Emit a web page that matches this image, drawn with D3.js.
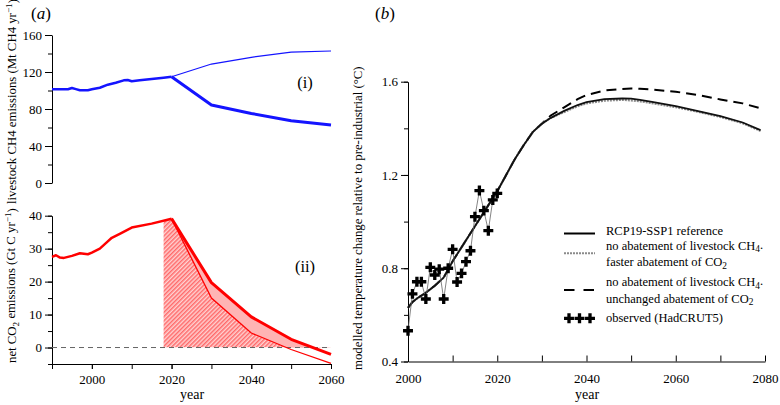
<!DOCTYPE html>
<html><head><meta charset="utf-8">
<script src="https://cdn.jsdelivr.net/npm/d3@7"></script>
<style>
body{margin:0;background:#fff;}
svg{display:block;font-family:"Liberation Serif","Times New Roman",serif;}
</style></head><body>
<svg id="chart" width="780" height="405"></svg>
<script>
// ---------- data: panel (a)(i) livestock CH4 (Mt CH4/yr)
const ch4Years = [1990,1992,1994,1995,1996,1997,1999,2000,2002,2004,2006,2008,2009,2010,2012,2015,2018,2020];
const ch4Hist  = [101.3,101.3,101.3,102.7,101.5,100.2,100.2,101.3,103,106.3,108.4,111,111.3,110,111,112.4,113.9,114.9];
const ch4ProjYears = [2020,2030,2040,2050,2060];
const ch4NoAbate   = [114.9,128.6,135.9,141.4,142.7];
const ch4Abate     = [114.9,84.3,75.2,67.4,62.7];
// ---------- panel (a)(ii) net CO2 (Gt C/yr)
const co2Years = [1990,1991,1992,1993,1995,1997,1999,2000,2002,2004,2005,2007,2010,2015,2020];
const co2Hist  = [27.5,28.0,27.3,27.2,27.8,28.6,28.3,28.8,30.0,32.2,33.3,34.5,36.4,37.6,39.1];
const co2ProjYears = [2020,2030,2040,2050,2060];
const co2Unchanged = [39.1,19.7,9.3,2.5,-2.1];
const co2Faster    = [39.1,15.0,4.4,-0.6,-4.8];
const hatchStartYear = 2018;
// ---------- panel (b) temperature (°C)
const tempYears = [2000,2001,2002,2004,2006,2008,2010,2012,2014,2016,2018,2020,2022,2024,2026,2028,2030,2032,2035,2038,2040,2044,2048,2050,2052,2055,2060,2065,2070,2075,2079];
const tempRef   = [0.63,0.655,0.67,0.695,0.725,0.76,0.83,0.89,0.95,1.01,1.07,1.13,1.20,1.27,1.33,1.385,1.42,1.445,1.475,1.50,1.512,1.525,1.528,1.527,1.522,1.512,1.495,1.474,1.452,1.425,1.392];
const tempFaster= [0.63,0.655,0.67,0.695,0.725,0.76,0.83,0.89,0.95,1.01,1.07,1.13,1.20,1.27,1.33,1.385,1.42,1.445,1.47,1.495,1.507,1.519,1.522,1.52,1.516,1.507,1.491,1.471,1.449,1.422,1.389];
const tempUnch  = [0.63,0.655,0.67,0.695,0.725,0.76,0.83,0.89,0.95,1.01,1.07,1.13,1.20,1.27,1.33,1.385,1.42,1.455,1.49,1.525,1.543,1.562,1.569,1.571,1.57,1.566,1.557,1.543,1.524,1.507,1.486];
const obsYears = [2000,2001,2002,2003,2004,2005,2006,2007,2008,2009,2010,2011,2012,2013,2014,2015,2016,2017,2018,2019,2020];
const obsTemp  = [0.532,0.690,0.742,0.742,0.668,0.804,0.771,0.796,0.668,0.800,0.881,0.741,0.778,0.828,0.875,1.021,1.133,1.047,0.961,1.093,1.121];
// ticks
const aYearTicks = [1990,2000,2010,2020,2030,2040,2050,2060];
const aYearLabels = [2000,2020,2040,2060];
const ch4Ticks = [0,20,40,60,80,100,120,140,160];
const ch4Labels = [0,40,80,120,160];
const co2Ticks = [-5,0,5,10,15,20,25,30,35,40];
const co2Labels = [0,10,20,30,40];
const bYearTicks = [2000,2010,2020,2030,2040,2050,2060,2070,2080];
const bYearLabels = [2000,2020,2040,2060,2080];
const tTicks = [0.4,0.6,0.8,1.0,1.2,1.4,1.6];
const tLabels = [0.4,0.8,1.2,1.6];

const svg = d3.select('#chart');
const FONT = 13;

// scales
const xa = d3.scaleLinear().domain([1990,2060]).range([52,331]);
const yTop = d3.scaleLinear().domain([0,160]).range([183,35]);
const yBot = d3.scaleLinear().domain([-5,40]).range([364,215.7]);
const xb = d3.scaleLinear().domain([2000,2080]).range([408,765]);
const yb = d3.scaleLinear().domain([0.4,1.6]).range([361.5,81.7]);

function styleAxis(g){ g.attr('font-family',null).attr('font-size',FONT); g.selectAll('text').attr('fill','#000'); g.selectAll('line,path').attr('stroke','#000'); }
function yAxis(scale, x, all, lab, fmt){
  svg.append('g').attr('transform',`translate(${x},0)`)
    .call(d3.axisLeft(scale).tickValues(all).tickSize(4).tickFormat(''))
    .call(g=>g.select('.domain').remove()).call(styleAxis);
  svg.append('g').attr('transform',`translate(${x},0)`)
    .call(d3.axisLeft(scale).tickValues(lab).tickSize(7).tickSizeOuter(0).tickPadding(3).tickFormat(fmt))
    .call(styleAxis);
}
yAxis(yTop, 52, ch4Ticks, ch4Labels, d3.format('d'));
yAxis(yBot, 52, co2Ticks, co2Labels, d3.format('d'));
yAxis(yb, 408, tTicks, tLabels, d3.format('.1f'));

// panel a x axis
svg.append('g').attr('transform','translate(0,364)')
  .call(d3.axisBottom(xa).tickValues(aYearTicks).tickSize(5).tickFormat(''))
  .call(g=>g.select('.domain').remove()).call(styleAxis);
svg.append('g').attr('transform','translate(0,364)')
  .call(d3.axisBottom(xa).tickValues(aYearLabels).tickSize(5).tickSizeOuter(0).tickPadding(6).tickFormat(d3.format('d')))
  .call(styleAxis);
// panel b x axis (ticks inward)
svg.append('g').attr('transform','translate(0,361.5)')
  .call(d3.axisBottom(xb).tickValues(bYearTicks).tickSize(-6).tickSizeOuter(0).tickPadding(12)
    .tickFormat(d=> bYearLabels.includes(d) ? d3.format('d')(d) : ''))
  .call(styleAxis);

// ---------- panel (a)(i)
const blue = '#1414ff';
const lineA = (ys, yScale) => d3.line().x((d,i)=>xa(ys[i])).y(d=>yScale(d));
svg.append('path').datum(ch4Hist).attr('d', lineA(ch4Years,yTop)).attr('fill','none').attr('stroke',blue).attr('stroke-width',2.5).attr('stroke-linejoin','round');
svg.append('path').datum(ch4NoAbate).attr('d', lineA(ch4ProjYears,yTop)).attr('fill','none').attr('stroke',blue).attr('stroke-width',1.2);
svg.append('path').datum(ch4Abate).attr('d', lineA(ch4ProjYears,yTop)).attr('fill','none').attr('stroke',blue).attr('stroke-width',3).attr('stroke-linejoin','round');

// ---------- panel (a)(ii)
const defs = svg.append('defs');
const pat = defs.append('pattern').attr('id','hatch').attr('patternUnits','userSpaceOnUse')
  .attr('width',3).attr('height',3).attr('patternTransform','rotate(45)');
pat.append('rect').attr('width',3).attr('height',3).attr('fill','#ffd2d2');
pat.append('rect').attr('width',1.5).attr('height',3).attr('fill','#ff6a6a');
defs.append('clipPath').attr('id','clipHatch').append('rect')
  .attr('x', xa(hatchStartYear)).attr('y', yBot(40)-5).attr('width', xa(2060)-xa(hatchStartYear)).attr('height', yBot(0)-yBot(40)+5);
defs.append('clipPath').attr('id','clipPos').append('rect')
  .attr('x', xa(1990)).attr('y', yBot(40)-5).attr('width', xa(2060)-xa(1990)).attr('height', yBot(0)-yBot(40)+5);

const hatchYears = co2Years.concat(co2ProjYears.slice(1));
const hatchVals = co2Hist.concat(co2Faster.slice(1));
svg.append('path').datum(hatchVals)
  .attr('d', d3.area().x((d,i)=>xa(hatchYears[i])).y0(yBot(0)).y1(d=>yBot(d)))
  .attr('fill','url(#hatch)').attr('clip-path','url(#clipHatch)');
svg.append('path').datum(co2Unchanged)
  .attr('d', d3.area().x((d,i)=>xa(co2ProjYears[i])).y0((d,i)=>yBot(co2Faster[i])).y1(d=>yBot(d)))
  .attr('fill','#ffb4b4').attr('clip-path','url(#clipPos)');
svg.append('line').attr('x1',xa(1990)).attr('x2',xa(2060)).attr('y1',yBot(0)).attr('y2',yBot(0))
  .attr('stroke','#666').attr('stroke-width',1).attr('stroke-dasharray','5,4');
const red = '#ff0000';
svg.append('path').datum(co2Hist).attr('d', lineA(co2Years,yBot)).attr('fill','none').attr('stroke',red).attr('stroke-width',2.5).attr('stroke-linejoin','round');
svg.append('path').datum(co2Faster).attr('d', lineA(co2ProjYears,yBot)).attr('fill','none').attr('stroke',red).attr('stroke-width',1.3);
svg.append('path').datum(co2Unchanged).attr('d', lineA(co2ProjYears,yBot)).attr('fill','none').attr('stroke',red).attr('stroke-width',3).attr('stroke-linejoin','round');

// ---------- panel (b)
const lineB = (ys) => d3.line().x((d,i)=>xb(ys[i])).y(d=>yb(d));
svg.append('path').datum(tempUnch).attr('d', lineB(tempYears)).attr('fill','none').attr('stroke','#000').attr('stroke-width',2).attr('stroke-dasharray','10,6');
svg.append('path').datum(tempFaster).attr('d', lineB(tempYears)).attr('fill','none').attr('stroke','#8a8a8a').attr('stroke-width',2.2).attr('stroke-dasharray','2,1');
svg.append('path').datum(tempRef).attr('d', lineB(tempYears)).attr('fill','none').attr('stroke','#111').attr('stroke-width',1.8);
svg.append('path').datum(obsTemp).attr('d', lineB(obsYears)).attr('fill','none').attr('stroke','#666').attr('stroke-width',0.8);
const cross = d3.symbol().type(d3.symbolCross).size(55);
svg.append('g').selectAll('path').data(obsTemp).join('path')
  .attr('transform',(d,i)=>`translate(${xb(obsYears[i])},${yb(d)})`).attr('d',cross).attr('fill','#000');

// legend
const lg = svg.append('g').attr('font-size',12.5);
const LX0 = 564, LX1 = 595, TX = 606;
lg.append('line').attr('x1',LX0).attr('x2',LX1).attr('y1',233.5).attr('y2',233.5).attr('stroke','#000').attr('stroke-width',2);
lg.append('text').attr('x',TX).attr('y',235).text('RCP19-SSP1 reference');
lg.append('line').attr('x1',LX0).attr('x2',LX1).attr('y1',253.3).attr('y2',253.3).attr('stroke','#8a8a8a').attr('stroke-width',2).attr('stroke-dasharray','2,1');
function sub(t, main, s, tail){
  t.append('tspan').text(main);
  t.append('tspan').attr('dy','0.3em').attr('font-size','0.75em').text(s);
  t.append('tspan').attr('dy','-0.3em').text(tail||'');
}
sub(lg.append('text').attr('x',TX).attr('y',249.5), 'no abatement of livestock CH','4','.');
sub(lg.append('text').attr('x',TX).attr('y',266), 'faster abatement of CO','2','');
lg.append('line').attr('x1',LX0).attr('x2',LX1).attr('y1',290).attr('y2',290).attr('stroke','#000').attr('stroke-width',2).attr('stroke-dasharray','10.5,9');
sub(lg.append('text').attr('x',TX).attr('y',286), 'no abatement of livestock CH','4','.');
sub(lg.append('text').attr('x',TX).attr('y',302.5), 'unchanged abatement of CO','2','');
[569,579.5,590].forEach(x=> lg.append('path').attr('transform',`translate(${x},318.3)`).attr('d',cross).attr('fill','#000'));
lg.append('text').attr('x',TX).attr('y',322).text('observed (HadCRUT5)');

// axis titles
svg.append('text').attr('x',192).attr('y',399).attr('text-anchor','middle').attr('font-size',14).text('year');
svg.append('text').attr('x',587).attr('y',399).attr('text-anchor','middle').attr('font-size',14).text('year');

const t1 = svg.append('text').attr('transform','translate(16,204) rotate(-90)').attr('font-size',12.8);
t1.append('tspan').text('livestock CH4 emissions (Mt CH4 yr');
t1.append('tspan').attr('dy','-0.4em').attr('font-size','0.72em').text('−1');
t1.append('tspan').attr('dy','0.4em').text(')');
const t2 = svg.append('text').attr('transform','translate(16,363) rotate(-90)').attr('font-size',12.8);
t2.append('tspan').text('net CO');
t2.append('tspan').attr('dy','0.3em').attr('font-size','0.72em').text('2');
t2.append('tspan').attr('dy','-0.3em').text(' emissions (Gt C yr');
t2.append('tspan').attr('dy','-0.4em').attr('font-size','0.72em').text('−1');
t2.append('tspan').attr('dy','0.4em').text(')');
svg.append('text').attr('transform','translate(362,370) rotate(-90)').attr('font-size',12.8)
  .text('modelled temperature change relative to pre-industrial (°C)');

// panel labels
function plab(x, y, letter){
  const t = svg.append('text').attr('x',x).attr('y',y).attr('font-size',17);
  t.append('tspan').text('(');
  t.append('tspan').attr('font-style','italic').text(letter);
  t.append('tspan').text(')');
}
plab(31, 19, 'a');
plab(375, 19, 'b');
svg.append('text').attr('x',305).attr('y',87.5).attr('text-anchor','middle').attr('font-size',16.5).text('(i)');
svg.append('text').attr('x',305).attr('y',272).attr('text-anchor','middle').attr('font-size',16.5).text('(ii)');
</script>
</body></html>
